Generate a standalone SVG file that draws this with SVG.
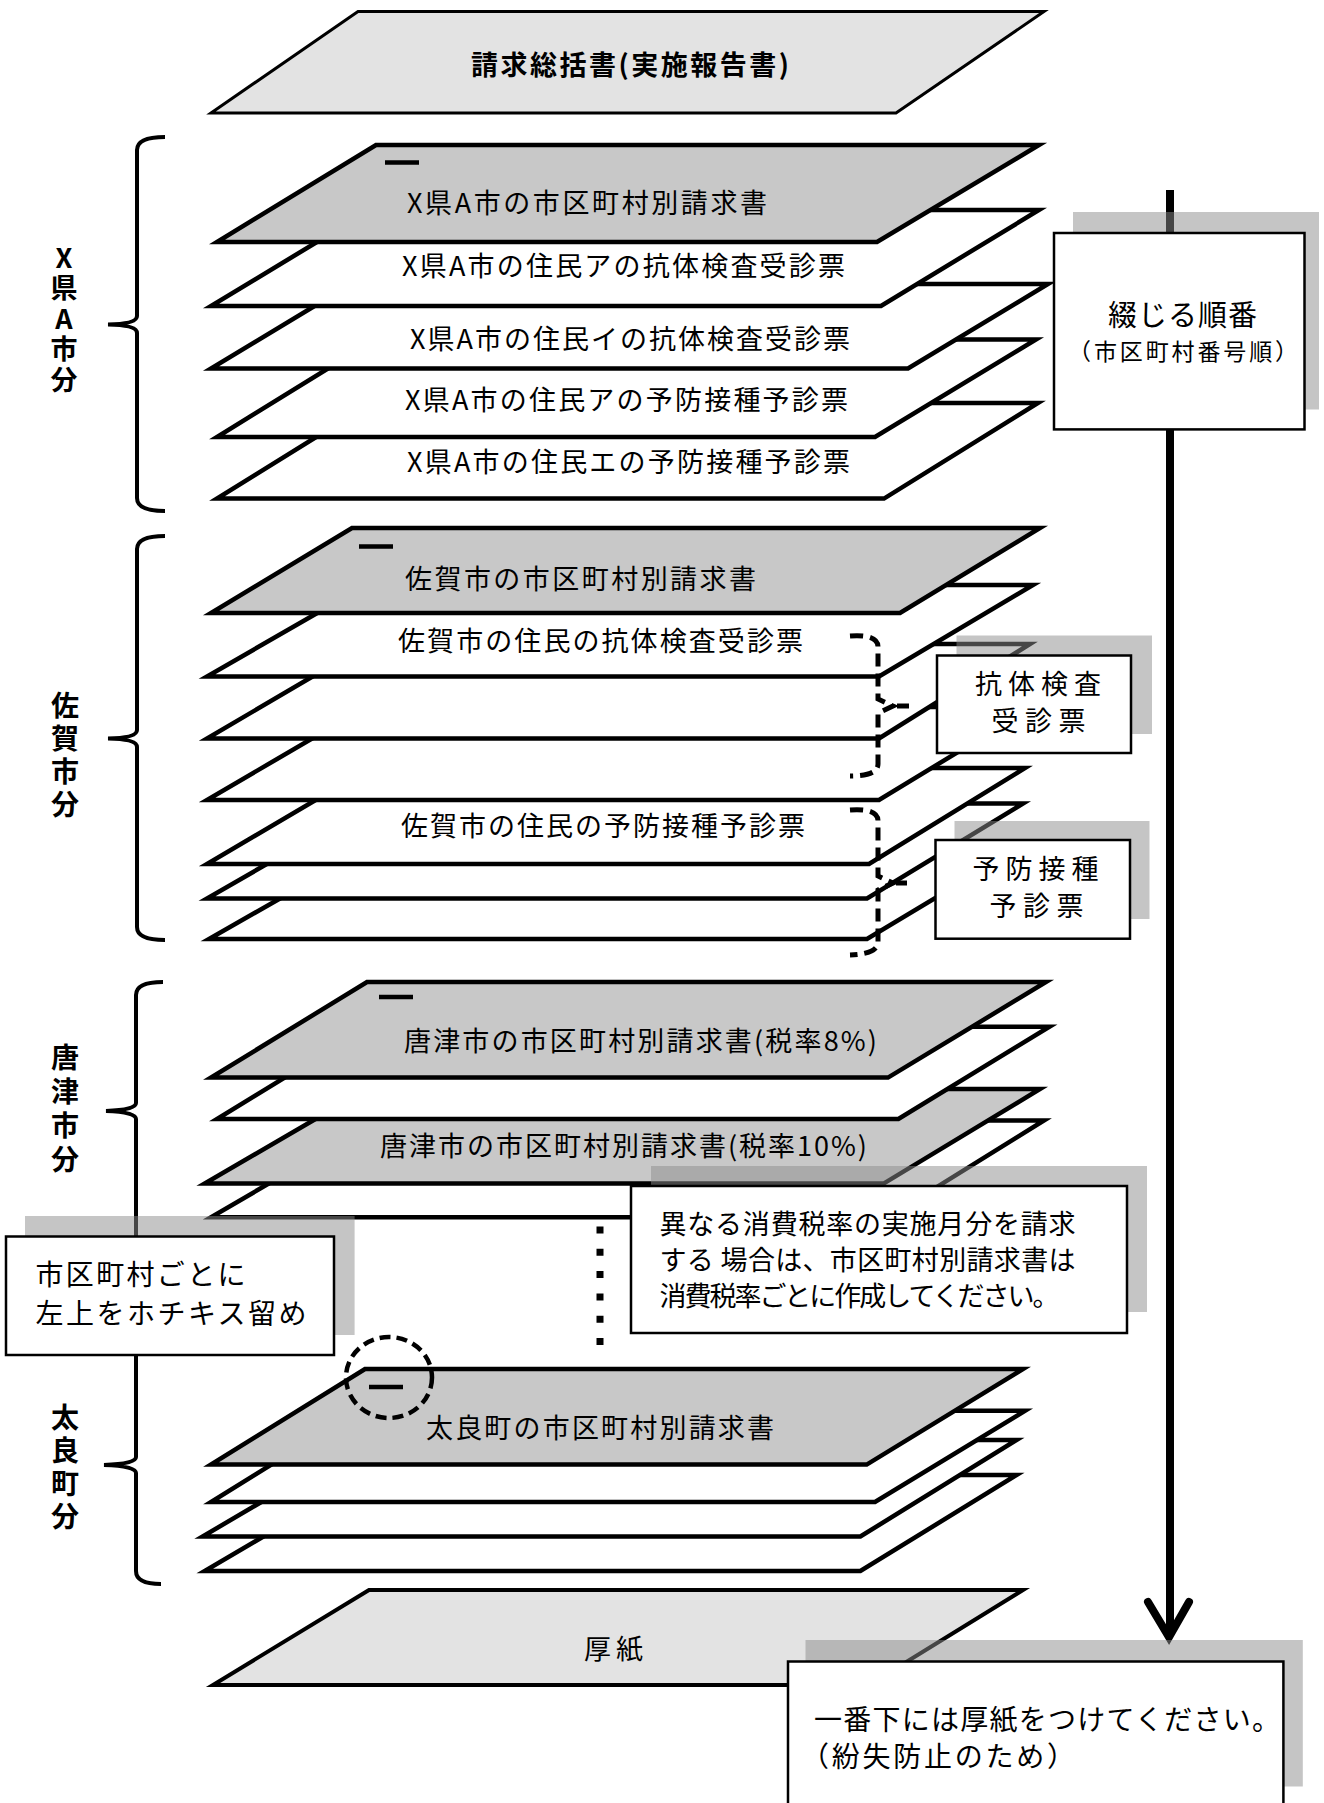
<svg xmlns="http://www.w3.org/2000/svg" width="1324" height="1803" viewBox="0 0 1324 1803">
<style>
.sheet{stroke:#000;stroke-width:4.5;stroke-linejoin:miter}
.gray{fill:#c8c8c8}
.white{fill:#fff}
.light{fill:#e3e3e3;stroke-width:3}
.t{font-family:"Noto Sans CJK JP","Noto Sans CJK SC",sans-serif;font-size:27px;fill:#000}
.b{font-weight:bold}
.lab{font-family:"Noto Sans CJK JP",sans-serif;font-size:28px;font-weight:bold;writing-mode:vertical-rl;text-orientation:upright}
.box{fill:#fff;stroke:#000;stroke-width:2.5}
.shadow{fill:#8c8c8c;opacity:0.5}
.brace{fill:none;stroke:#000;stroke-width:4}
.dbrace{fill:none;stroke:#000;stroke-width:5;stroke-dasharray:13 7}
.staple{stroke:#000;stroke-width:4.5}
</style>

<g id="sheet-summary">
<polygon class="sheet light" points="358,11.5 1044,11.5 896,113 211,113"/>
<text class="t b" x="471" y="75" textLength="318" lengthAdjust="spacing">請求総括書(実施報告書)</text>
</g>

<g id="braces">
<path class="brace" d="M165,137 Q137,137 137,150 L137,316 Q137,324 108,324.5 Q137,325 137,333 L137,498 Q137,511 165,511"/>
<path class="brace" d="M165,536 Q137,536 137,549 L137,730 Q137,738 108,738.5 Q137,739 137,747 L137,927 Q137,940 165,940"/>
<path class="brace" d="M163,982 Q136,982 136,995 L136,1103 Q136,1110 106,1111 Q136,1112 136,1119 L136,1457 Q136,1464 104,1465 Q136,1466 136,1473 L136,1571 Q136,1584 161,1584"/>
</g>

<g id="label-x"><text class="lab" x="64" y="244" style="font-size:27px;letter-spacing:3.5px">X県A市分</text></g>
<g id="label-saga"><text class="lab" x="65" y="691" style="letter-spacing:5px">佐賀市分</text></g>
<g id="label-karatsu"><text class="lab" x="65" y="1043" style="letter-spacing:6px">唐津市分</text></g>
<g id="label-tara"><text class="lab" x="65" y="1403" style="letter-spacing:5px">太良町分</text></g>

<g id="group-x">
<g id="x-5"><polygon class="sheet white" points="371,403 1038,403 884,498.6 217,498.6"/>
<text class="t" x="407" y="472" textLength="443" lengthAdjust="spacing">X県A市の住民エの予防接種予診票</text></g>
<g id="x-4"><polygon class="sheet white" points="375,339.5 1036,339.5 875,437 217,437"/>
<text class="t" x="405" y="410" textLength="443" lengthAdjust="spacing">X県A市の住民アの予防接種予診票</text></g>
<g id="x-3"><polygon class="sheet white" points="351,284 1048,284 908,368.5 211,368.5"/>
<text class="t" x="410" y="349" textLength="440" lengthAdjust="spacing">X県A市の住民イの抗体検査受診票</text></g>
<g id="x-2"><polygon class="sheet white" points="370,210 1039,210 881,306 211,306"/>
<text class="t" x="402" y="276" textLength="443" lengthAdjust="spacing">X県A市の住民アの抗体検査受診票</text></g>
<g id="x-1"><polygon class="sheet gray" points="376,145 1039,145 877,242 217,242"/>
<line class="staple" x1="385" y1="162.6" x2="419" y2="162.6"/>
<text class="t" x="407" y="213" textLength="360" lengthAdjust="spacing">X県A市の市区町村別請求書</text></g>
</g>

<g id="group-saga">
<g id="saga-7"><polygon class="sheet white" points="372,846 1022,846 867,939 209,939"/></g>
<g id="saga-6"><polygon class="sheet white" points="372,803.6 1023,803.6 867,898.5 207,898.5"/></g>
<g id="saga-5"><polygon class="sheet white" points="370,768 1025,768 869,864 207,864"/>
<text class="t" x="401" y="836" textLength="404" lengthAdjust="spacing">佐賀市の住民の予防接種予診票</text></g>
<g id="saga-4"><polygon class="sheet white" points="366,707 1032,707 879,800 207,800"/></g>
<g id="saga-3"><polygon class="sheet white" points="368,644 1030,644 879,738.5 207,738.5"/></g>
<g id="saga-2"><polygon class="sheet white" points="366,585 1033,585 879,676.5 207,676.5"/>
<text class="t" x="398" y="651" textLength="405" lengthAdjust="spacing">佐賀市の住民の抗体検査受診票</text></g>
<g id="saga-1"><polygon class="sheet gray" points="352,528 1040,528 900,613 211,613"/>
<line class="staple" x1="359" y1="546.5" x2="393" y2="546.5"/>
<text class="t" x="405" y="589" textLength="351" lengthAdjust="spacing">佐賀市の市区町村別請求書</text></g>
</g>

<g id="group-karatsu">
<g id="karatsu-4"><polygon class="sheet white" points="377,1120.5 1044,1120.5 888,1217.3 211,1217.3"/></g>
<g id="karatsu-3"><polygon class="sheet gray" points="367,1089 1040,1089 883.6,1183.6 204.7,1183.6"/>
<text class="t" x="380" y="1156" textLength="487" lengthAdjust="spacing">唐津市の市区町村別請求書(税率10%)</text></g>
<g id="karatsu-2"><polygon class="sheet white" points="368,1026.7 1049.5,1026.7 898.4,1119 217,1119"/></g>
<g id="karatsu-1"><polygon class="sheet gray" points="367,982 1046,982 888,1077.6 211,1077.6"/>
<line class="staple" x1="379" y1="997" x2="413" y2="997"/>
<text class="t" x="404" y="1051" textLength="473" lengthAdjust="spacing">唐津市の市区町村別請求書(税率8%)</text></g>
</g>

<g id="group-tara">
<g id="tara-4"><polygon class="sheet white" points="368,1475 1016.6,1475 860.4,1571 204.7,1571"/></g>
<g id="tara-3"><polygon class="sheet white" points="367,1440 1016.6,1440 860.4,1536.5 202.6,1536.5"/></g>
<g id="tara-2"><polygon class="sheet white" points="358,1410.8 1025,1410.8 875,1502 211,1502"/></g>
<g id="tara-1"><polygon class="sheet gray" points="365,1369 1023,1369 866.7,1464.6 211,1464.6"/>
<line class="staple" x1="369" y1="1387" x2="403" y2="1387"/>
<text class="t" x="426" y="1438" textLength="348" lengthAdjust="spacing">太良町の市区町村別請求書</text>
<ellipse cx="389" cy="1377.5" rx="43" ry="40.5" fill="none" stroke="#000" stroke-width="4.5" stroke-dasharray="11 6"/></g>
</g>

<g id="sheet-board">
<polygon class="sheet light" style="stroke-width:4" points="369,1590 1023,1590 869,1685 213,1685"/>
<text class="t" x="584" y="1659" textLength="59" lengthAdjust="spacing">厚紙</text>
</g>

<g id="connectors">
<line x1="1170" y1="190" x2="1170" y2="1632" stroke="#000" stroke-width="8"/>
<polyline points="1148,1602 1169,1637 1189,1602" fill="none" stroke="#000" stroke-width="8" stroke-linecap="round" stroke-linejoin="miter"/>
<path class="dbrace" d="M850,636 Q878,634 878,647 L878,699 L893,706 L878,713 L878,764 Q878,776 850,776"/>
<line x1="897" y1="706" x2="909" y2="706" stroke="#000" stroke-width="5"/>
<path class="dbrace" d="M850,810 Q878,808 878,821 L878,876 L893,883 L878,890 L878,942 Q878,954 850,955"/>
<line x1="896" y1="883" x2="907" y2="883" stroke="#000" stroke-width="5"/>
<line x1="600" y1="1226.5" x2="600" y2="1346" stroke="#000" stroke-width="7" stroke-dasharray="7 15.3"/>
</g>

<g id="note-order">
<rect class="shadow" x="1073" y="212" width="246" height="197.5"/>
<rect class="box" x="1054" y="233" width="250.5" height="196.4"/>
<text class="t" style="font-size:29px" x="1108" y="326" textLength="149" lengthAdjust="spacing">綴じる順番</text>
<text class="t" style="font-size:23px" x="1068" y="360" textLength="230" lengthAdjust="spacing">（市区町村番号順）</text>
</g>

<g id="note-antibody">
<rect class="shadow" x="956.5" y="635.5" width="195.5" height="98.5"/>
<rect class="box" x="937" y="655.5" width="194" height="97.5"/>
<text class="t" x="975" y="694" textLength="126" lengthAdjust="spacing">抗体検査</text>
<text class="t" x="991.5" y="731" textLength="94" lengthAdjust="spacing">受診票</text>
</g>

<g id="note-vaccine">
<rect class="shadow" x="954.5" y="821" width="195" height="98"/>
<rect class="box" x="935.5" y="840" width="194.5" height="98.7"/>
<text class="t" x="972.5" y="879" textLength="126" lengthAdjust="spacing">予防接種</text>
<text class="t" x="989.5" y="916" textLength="94" lengthAdjust="spacing">予診票</text>
</g>

<g id="note-staple">
<rect class="shadow" x="25" y="1216" width="329.6" height="119"/>
<rect class="box" x="6" y="1236.5" width="328" height="118.5"/>
<text class="t" style="font-size:28px" x="35.5" y="1285" textLength="210" lengthAdjust="spacing">市区町村ごとに</text>
<text class="t" style="font-size:28px" x="35.5" y="1324" textLength="271" lengthAdjust="spacing">左上をホチキス留め</text>
</g>

<g id="note-tax">
<rect class="shadow" x="651" y="1166" width="496" height="146"/>
<rect class="box" x="631" y="1186" width="496" height="147"/>
<text class="t" x="659.5" y="1234" textLength="416" lengthAdjust="spacing">異なる消費税率の実施月分を請求</text>
<text class="t" x="659.5" y="1270" textLength="416" lengthAdjust="spacing">する 場合は、市区町村別請求書は</text>
<text class="t" x="659.5" y="1306" textLength="400" lengthAdjust="spacing">消費税率ごとに作成してください。</text>
</g>

<g id="note-board">
<rect class="shadow" x="805.5" y="1640" width="497.3" height="146.5"/>
<rect class="box" x="788" y="1661.5" width="495.4" height="150"/>
<text class="t" style="font-size:28px" x="814" y="1730" textLength="466" lengthAdjust="spacing">一番下には厚紙をつけてください。</text>
<text class="t" style="font-size:28px" x="801" y="1767" textLength="274" lengthAdjust="spacing">（紛失防止のため）</text>
</g>
</svg>
